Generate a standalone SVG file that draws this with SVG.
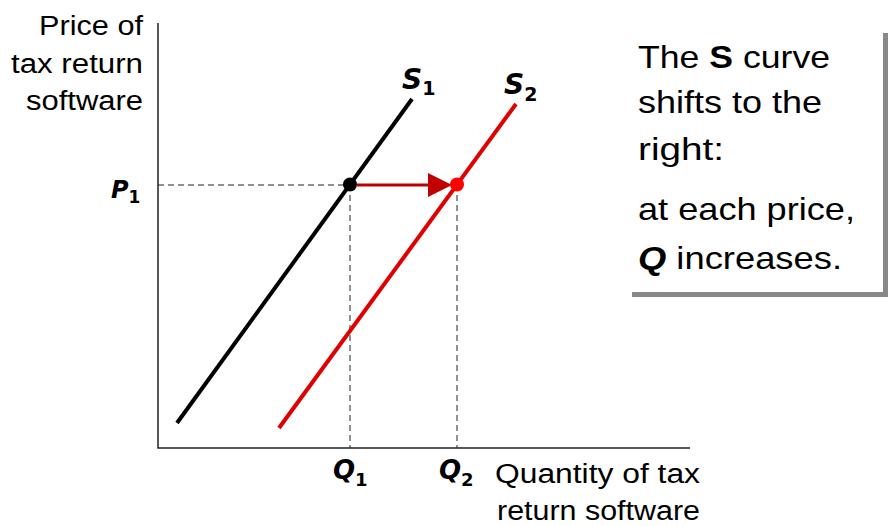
<svg xmlns="http://www.w3.org/2000/svg" width="890" height="526" viewBox="0 0 890 526">
<style>
.lbl{font-family:"Liberation Sans",Arial,sans-serif;font-size:27px;fill:#000}
.box{font-family:"Liberation Sans",Arial,sans-serif;font-size:32px;fill:#000}
.sym{font-family:"DejaVu Sans",Verdana,sans-serif;font-weight:bold;font-style:italic;fill:#000}
.sub{font-style:normal}
.axis{stroke:#222;stroke-width:1.5;fill:none}
.dash{stroke:#222;stroke-width:1;stroke-dasharray:6 4;fill:none}
</style>
<defs>
<marker id="ah" markerWidth="8" markerHeight="8" refX="0" refY="4" orient="auto" markerUnits="strokeWidth">
<path d="M0,0 L8,4 L0,8 Z" fill="#c00000"/>
</marker>
</defs>
<rect width="890" height="526" fill="#fff"/>
<g id="axes">
<polyline class="axis" points="158,23 158,448 690,448"/>
</g>
<g id="connectors">
<line class="dash" x1="158" y1="185" x2="350" y2="185"/>
<line class="dash" x1="350" y1="185" x2="350" y2="448"/>
<line class="dash" x1="457" y1="185" x2="457" y2="448"/>
<line x1="357" y1="185" x2="428" y2="185" stroke="#c00000" stroke-width="3" marker-end="url(#ah)"/>
</g>
<g id="S1">
<line x1="177" y1="423" x2="412" y2="99" stroke="#000" stroke-width="4"/>
<text class="sym" x="402" y="89" font-size="28">S<tspan class="sub" font-size="19" dy="6">1</tspan></text>
</g>
<g id="S2">
<line x1="279" y1="428" x2="516" y2="104" stroke="#e00000" stroke-width="4"/>
<text class="sym" x="504" y="94" font-size="28" fill="#a50021">S<tspan class="sub" font-size="19" dy="7">2</tspan></text>
</g>
<g id="point1"><circle cx="350" cy="184.5" r="7" fill="#000"/></g>
<g id="point2"><circle cx="457" cy="184.5" r="7" fill="#ff0000"/></g>
<g id="ylabel">
<text class="lbl" x="143" y="35" text-anchor="end" textLength="104" lengthAdjust="spacingAndGlyphs">Price of</text>
<text class="lbl" x="143" y="73" text-anchor="end" textLength="132" lengthAdjust="spacingAndGlyphs">tax return</text>
<text class="lbl" x="143" y="110" text-anchor="end" textLength="117" lengthAdjust="spacingAndGlyphs">software</text>
</g>
<g id="P1"><text class="sym" x="111" y="198" font-size="24">P<tspan class="sub" font-size="17" dy="5">1</tspan></text></g>
<g id="Q1"><text class="sym" x="333" y="479" font-size="26">Q<tspan class="sub" font-size="18" dy="7">1</tspan></text></g>
<g id="Q2"><text class="sym" x="439" y="479" font-size="26">Q<tspan class="sub" font-size="18" dy="7">2</tspan></text></g>
<g id="xlabel">
<text class="lbl" x="700" y="483" text-anchor="end" textLength="205" lengthAdjust="spacingAndGlyphs">Quantity of tax</text>
<text class="lbl" x="700" y="520" text-anchor="end" textLength="203" lengthAdjust="spacingAndGlyphs">return software</text>
</g>
<g id="note">
<rect x="632" y="33" width="256" height="264" fill="#888"/>
<rect x="627" y="28" width="256" height="264" fill="#fff"/>
<text class="box" x="638" y="68" textLength="192" lengthAdjust="spacingAndGlyphs">The <tspan font-weight="bold">S</tspan> curve</text>
<text class="box" x="638" y="113" textLength="184" lengthAdjust="spacingAndGlyphs">shifts to the</text>
<text class="box" x="638" y="160" textLength="86" lengthAdjust="spacingAndGlyphs">right:</text>
<text class="box" x="638" y="220" textLength="217" lengthAdjust="spacingAndGlyphs">at each price,</text>
<text class="box" x="638" y="269" textLength="204" lengthAdjust="spacingAndGlyphs"><tspan font-weight="bold" font-style="italic">Q</tspan> increases.</text>
</g>
</svg>
